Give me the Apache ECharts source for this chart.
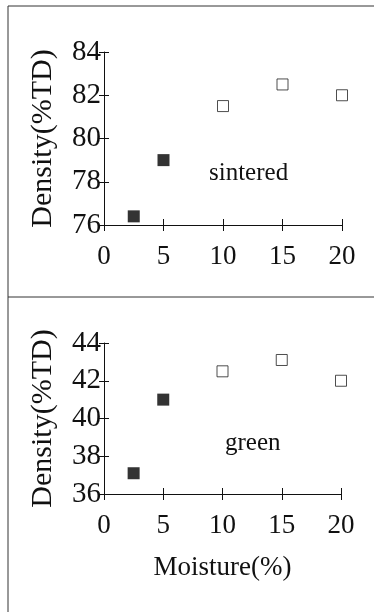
<!DOCTYPE html>
<html>
<head>
<meta charset="utf-8">
<script src="https://cdn.jsdelivr.net/npm/echarts@6/dist/echarts.min.js"></script>
<style>
html,body{margin:0;padding:0;background:#fff;}
#c{width:374px;height:612px;}
</style>
</head>
<body>
<div id="c"></div>
<script>
// ---- data ----
const moistureFilled = [2.5, 5];
const moistureHollow = [10, 15, 20];
const sinteredFilled = [76.4, 79.0];
const sinteredHollow = [81.5, 82.5, 82.0];
const greenFilled = [37.1, 41.0];
const greenHollow = [42.5, 43.1, 42.0];
const xTicks = [0, 5, 10, 15, 20];
const sinteredTicks = [76, 78, 80, 82, 84];
const greenTicks = [36, 38, 40, 42, 44];
const yName = 'Density(%TD)';
const xName = 'Moisture(%)';
const panelLabels = ['sintered', 'green'];

const font = '"Liberation Serif", "DejaVu Serif", serif';
const ink = '#111';
const pair = (xs, ys) => xs.map((x, i) => [x, ys[i]]);

function xAxes(gi, showLabels) {
  return [
    { type:'value', gridIndex:gi, position:'bottom', offset:0, min:xTicks[0], max:xTicks[xTicks.length-1], interval:5,
      axisLine:{show:true, onZero:false, lineStyle:{color:ink, width:1}},
      axisTick:{show:true, inside:false, length:6, lineStyle:{color:ink}},
      axisLabel:{show:true, margin:18, fontFamily:font, fontSize:27, color:ink},
      splitLine:{show:false},
      name: showLabels ? xName : '', nameLocation:'middle', nameGap:60,
      nameTextStyle:{fontFamily:font, fontSize:27, color:ink} },
    { type:'value', gridIndex:gi, position:'bottom', offset:0, min:xTicks[0], max:xTicks[xTicks.length-1], interval:5,
      axisLine:{show:false, onZero:false},
      axisTick:{show:true, inside:true, length:6, lineStyle:{color:ink}},
      axisLabel:{show:false}, splitLine:{show:false} }
  ];
}
function yAxes(gi, ticks) {
  return [
    { type:'value', gridIndex:gi, position:'left', offset:0, min:ticks[0], max:ticks[ticks.length-1], interval:2,
      axisLine:{show:true, onZero:false, lineStyle:{color:ink, width:1}},
      axisTick:{show:true, inside:false, length:5, lineStyle:{color:ink}},
      axisLabel:{show:true, margin:3, fontFamily:font, fontSize:29, color:ink},
      splitLine:{show:false},
      name: yName, nameLocation:'middle', nameGap:46, nameRotate:90,
      nameTextStyle:{fontFamily:font, fontSize:30, color:ink} },
    { type:'value', gridIndex:gi, position:'left', offset:0, min:ticks[0], max:ticks[ticks.length-1], interval:2,
      axisLine:{show:false, onZero:false},
      axisTick:{show:true, inside:true, length:5, lineStyle:{color:ink}},
      axisLabel:{show:false}, splitLine:{show:false} }
  ];
}

const filledStyle = {color:'#000'};
const hollowStyle = {color:'#fff', borderColor:'#222', borderWidth:1};

const option = {
  animation:false,
  backgroundColor:'#fff',
  grid:[
    {left:104, top:52, width:238, height:173},
    {left:104, top:343, width:237, height:151}
  ],
  xAxis:[...xAxes(0,false), ...xAxes(1,true)],
  yAxis:[...yAxes(0,sinteredTicks), ...yAxes(1,greenTicks)],
  series:[
    {type:'scatter', xAxisIndex:0, yAxisIndex:0, symbol:'rect', symbolSize:12, itemStyle:filledStyle, data:pair(moistureFilled, sinteredFilled)},
    {type:'scatter', xAxisIndex:0, yAxisIndex:0, symbol:'rect', symbolSize:11, itemStyle:hollowStyle, data:pair(moistureHollow, sinteredHollow)},
    {type:'scatter', xAxisIndex:2, yAxisIndex:2, symbol:'rect', symbolSize:12, itemStyle:filledStyle, data:pair(moistureFilled, greenFilled)},
    {type:'scatter', xAxisIndex:2, yAxisIndex:2, symbol:'rect', symbolSize:11, itemStyle:hollowStyle, data:pair(moistureHollow, greenHollow)}
  ],
  graphic:[
    {type:'line', shape:{x1:8, y1:6, x2:374, y2:6}, style:{stroke:'#333', lineWidth:1}},
    {type:'line', shape:{x1:8, y1:6, x2:8, y2:612}, style:{stroke:'#333', lineWidth:1}},
    {type:'line', shape:{x1:8, y1:297, x2:374, y2:297}, style:{stroke:'#333', lineWidth:1}},
    {type:'text', left:209, top:161, style:{text:panelLabels[0], font:'25px ' + font, fill:ink}},
    {type:'text', left:225, top:431, style:{text:panelLabels[1], font:'25px ' + font, fill:ink}}
  ]
};
const chart = echarts.init(document.getElementById('c'), null, {renderer:'canvas'});
chart.setOption(option);
</script>
</body>
</html>
